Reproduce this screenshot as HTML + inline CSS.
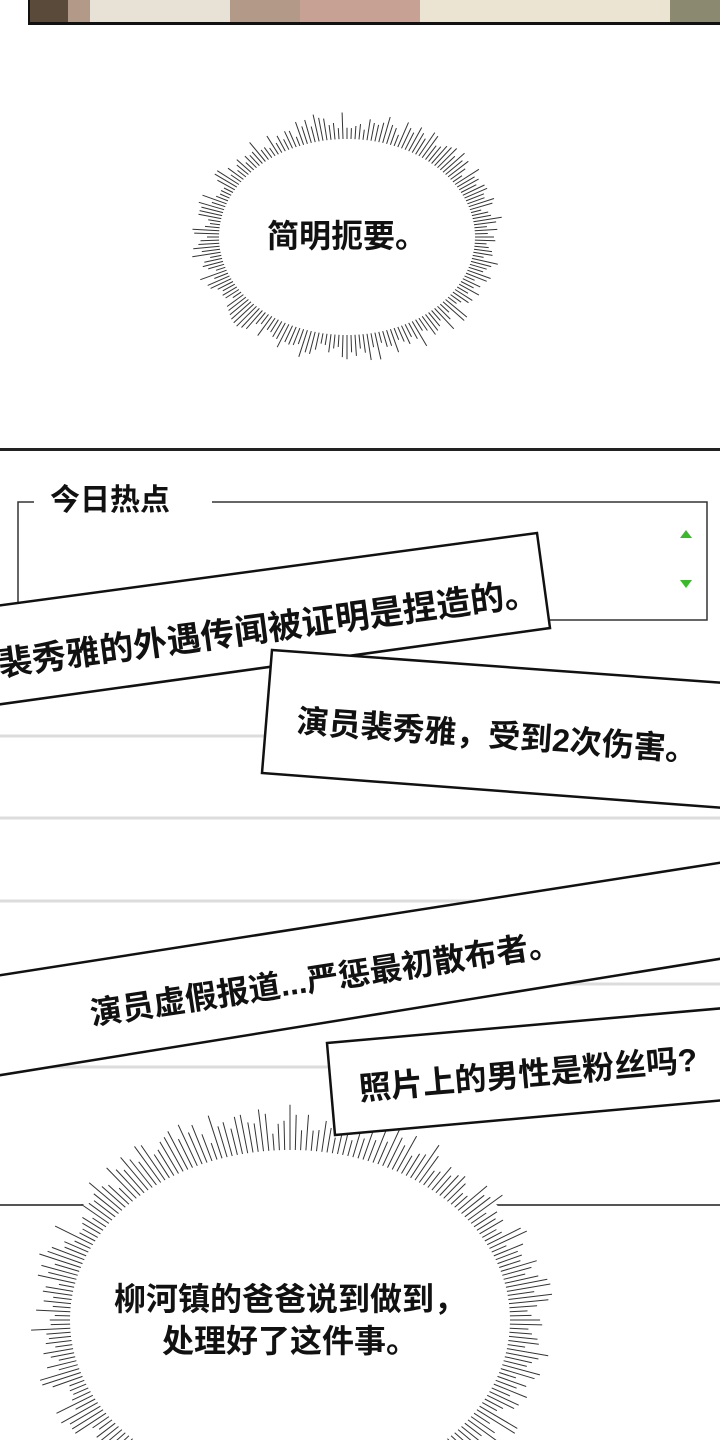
<!DOCTYPE html>
<html><head><meta charset="utf-8"><style>
html,body{margin:0;padding:0;background:#fff;overflow:hidden;}
body{width:720px;height:1440px;position:relative;overflow:hidden;font-family:"Liberation Sans","Noto Sans CJK SC",sans-serif;}
svg{position:absolute;left:0;top:0;display:block;}
text{font-weight:bold;}
</style></head><body>
<svg id="s" width="720" height="1440" viewBox="0 0 720 1440" xmlns="http://www.w3.org/2000/svg">
<rect x="28" y="0" width="692" height="24" fill="#b39a88"/>
<rect x="28" y="0" width="40" height="24" fill="#5a4a3a"/>
<rect x="90" y="0" width="140" height="22" fill="#e8e2d6"/>
<rect x="300" y="0" width="120" height="24" fill="#c7a193"/>
<rect x="420" y="0" width="250" height="24" fill="#ece4d2"/>
<rect x="670" y="0" width="50" height="24" fill="#8b8a70"/>
<rect x="28" y="22" width="692" height="3" fill="#111"/>
<rect x="28" y="0" width="2" height="25" fill="#111"/>
<rect x="0" y="448" width="720" height="3" fill="#222"/>
<path d="M34,502 H18 V620 H707 V502 H212" fill="none" stroke="#333" stroke-width="1.5"/>
<text x="50" y="510" font-size="30" fill="#111">今日热点</text>
<polygon points="686,530 680,538 692,538" fill="#3bb82c"/>
<polygon points="680,580 692,580 686,588" fill="#3bb82c"/>
<g stroke="#dcdcdc" stroke-width="3">
<line x1="0" y1="736" x2="720" y2="736"/>
<line x1="0" y1="818" x2="720" y2="818"/>
<line x1="0" y1="901" x2="720" y2="901"/>
<line x1="0" y1="984" x2="720" y2="984"/>
<line x1="0" y1="1067" x2="720" y2="1067"/>
</g>
<line x1="0" y1="1205" x2="720" y2="1205" stroke="#555" stroke-width="2"/>
<ellipse cx="290" cy="1320" rx="250" ry="205" fill="#fff"/>
<g id="b1"></g>
<g id="b2"></g>
<polygon points="-5,606 537,533 550,628 -5,705" fill="#fff" stroke="#111" stroke-width="2.5"/>
<text transform="translate(0,676) rotate(-7.6)" font-size="34" fill="#111">裴秀雅的外遇传闻被证明是捏造的。</text>
<polygon points="272,650 725,683 725,808 262,773" fill="#fff" stroke="#111" stroke-width="2.5"/>
<text transform="translate(296,732) rotate(4.2)" font-size="32" fill="#111">演员裴秀雅，受到2次伤害。</text>
<polygon points="-5,976 725,862 725,958 -5,1076" fill="#fff" stroke="#111" stroke-width="2.5"/>
<text transform="translate(92,1025) rotate(-8.6)" font-size="32" fill="#111">演员虚假报道...严惩最初散布者。</text>
<polygon points="327,1043 725,1008 725,1100 335,1135" fill="#fff" stroke="#111" stroke-width="2.5"/>
<text transform="translate(360,1100) rotate(-5)" font-size="32" fill="#111">照片上的男性是粉丝吗?</text>
<text x="347" y="247" font-size="32" text-anchor="middle" fill="#111">简明扼要。</text>
<text x="290" y="1310" font-size="32" text-anchor="middle" fill="#111">柳河镇的爸爸说到做到，</text>
<text x="290" y="1352" font-size="32" text-anchor="middle" fill="#111">处理好了这件事。</text>
</svg>
<script>
function burst(id,cx,cy,rx,ry,len,n){
 var g=document.getElementById(id),s='';
 var seed=7;function r(){seed=(seed*9301+49297)%233280;return seed/233280;}
 for(var i=0;i<n;i++){var a=i/n*Math.PI*2;var c=Math.cos(a),sn=Math.sin(a);
  var l=len*(0.4+r()*0.8);
  var x1=cx+rx*c,y1=cy+ry*sn,x2=cx+(rx+l)*c,y2=cy+(ry+l)*sn;
  s+='<line x1="'+x1.toFixed(1)+'" y1="'+y1.toFixed(1)+'" x2="'+x2.toFixed(1)+'" y2="'+y2.toFixed(1)+'" stroke="#333" stroke-width="1"/>';}
 g.innerHTML=s;
}
burst('b1',347,237,128,98,24,200);
burst('b2',290,1320,220,170,38,260);
</script>
</body></html>
